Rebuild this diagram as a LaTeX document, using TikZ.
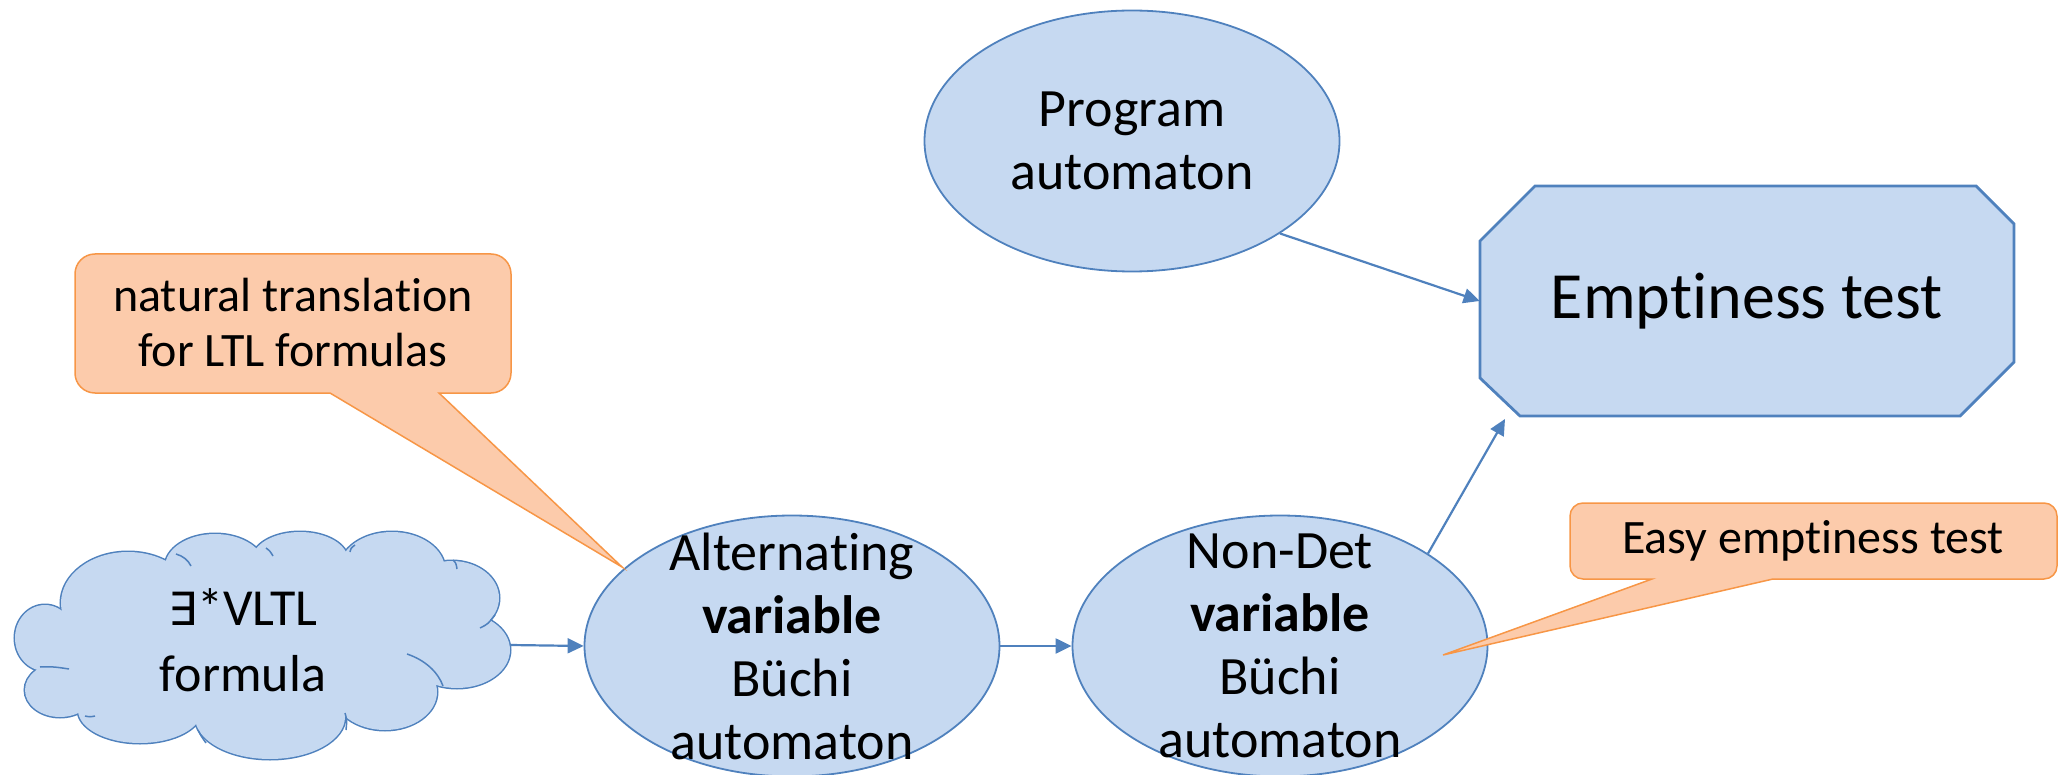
\documentclass[tikz,border=0pt]{standalone}
\usepackage{fontspec}
\setmainfont{Carlito}[Ligatures={NoCommon,NoRare,NoContextual},Contextuals={NoAlternate}]
\newfontfamily\symfont[Scale=0.88]{DejaVu Sans}
\usetikzlibrary{arrows.meta,shapes.geometric}
\definecolor{puffblue}{HTML}{C6D9F1}
\definecolor{edgeblue}{HTML}{4F81BD}
\definecolor{notefill}{HTML}{FCCBAB}
\definecolor{noteedge}{HTML}{F79646}

\begin{document}
\begin{tikzpicture}[x=0.5pt,y=-0.5pt,
  ell/.style={ellipse, draw=edgeblue, fill=puffblue, line width=0.9pt,
    minimum width=207.5pt, minimum height=130.5pt, inner sep=0pt},
  txt/.style={align=center, inner sep=0pt, font=\fontsize{27}{31.5}\selectfont},
  note/.style={draw=noteedge, fill=notefill, line width=0.75pt, line join=miter},
  notetxt/.style={align=center, inner sep=0pt, font=\fontsize{24}{27.5}\selectfont},
  arr/.style={draw=edgeblue, line width=1.1pt, -{Triangle[length=8pt,width=7.5pt]}},
]
\useasboundingbox (0,0) rectangle (2067,775);

% ---- cloud: union of puffs, outer outline only, plus inner arcs ----
\def\puffs{128/603/67/51, 215/567/50/33, 300/560/48/28, 392/570/53/38,
  452/598/47/37, 457/650/53/38, 385/692/52/38, 270/717/75/42,
  140/710/62/33, 60/690/35/27, 45/638/30/33}
\foreach \cx/\cy/\rx/\ry in \puffs
  \draw[edgeblue, line width=1.5pt] (\cx,\cy) ellipse [x radius=\rx, y radius=\ry];
\foreach \cx/\cy/\rx/\ry in \puffs
  \fill[puffblue] (\cx,\cy) ellipse [x radius=\rx, y radius=\ry];
\fill[puffblue] (45,638) -- (128,603) -- (215,567) -- (300,560) -- (392,570)
  -- (452,598) -- (457,650) -- (385,692) -- (270,717) -- (140,710) -- (60,690) -- cycle;
\begin{scope}[edgeblue, line width=0.75pt]
  \draw (176,554) .. controls (183,556) and (188,560) .. (191,566);
  \draw (266,548) .. controls (270,551) .. (273,556);
  \draw (350,552) .. controls (351,548) .. (355,545);
  \draw (453,560) .. controls (456,563) .. (457,569);
  \draw (480,628) .. controls (488,624) .. (495,615);
  \draw (407,654) .. controls (425,660) and (438,672) .. (443,686);
  \draw (345,713) .. controls (347,720) .. (346,730);
  \draw (198,730) .. controls (201,736) .. (206,743);
  \draw (85,716) .. controls (90,717) .. (95,716);
  \draw (40,667) .. controls (52,666) and (62,668) .. (69,669);
\end{scope}
\node[txt, font=\fontsize{26}{33}\selectfont] (formula) at (243,640) {{\symfont ∃}*VLTL\\formula};
\coordinate (cloudE) at (510,645);

% ---- automata ----
\node[ell] (prog) at (1132,141) {};
\node[txt] (progT) at (prog) {Program\\automaton};
\node[ell] (alt) at (792,646) {};
\node[txt] (altT) at (alt) {Alternating\\\textbf{variable}\\Büchi\\automaton};
\node[ell] (nd) at (1280,646) {};
\node[txt] (ndT) at (nd) {Non-Det\\\textbf{variable}\\Büchi\\automaton};

% ---- emptiness test ----
\path[draw=edgeblue, fill=puffblue, line width=1.4pt]
  (1480,241) -- (1535,186) -- (1976,186) -- (2014,224) -- (2014,362)
  -- (1960,416) -- (1520,416) -- (1480,378) -- cycle;
\node[minimum width=267pt, minimum height=115pt, inner sep=0pt,
  font=\fontsize{33}{40}\selectfont] (empt) at (1747,301) {Emptiness test};
\coordinate (ndtip) at (1505,419);

% ---- connectors ----
\draw[arr] (cloudE) -- (alt.west);
\draw[arr] (alt) -- (nd);
\draw[arr] (prog.-32) -- (empt.west);
\draw[arr] (nd.32) -- (ndtip);

% ---- callouts ----
\path[note] (622,567) -- (439,393) [rounded corners=10pt] -- (511,393) -- (511,254)
  -- (75,254) -- (75,393) [sharp corners] -- (330,393) -- cycle;
\node[notetxt] (natT) at (293,323) {natural translation\\for LTL formulas};

\path[note] (1443,655) -- (1773,579) [rounded corners=6.5pt] -- (2057,579) -- (2057,503)
  -- (1570,503) -- (1570,579) [sharp corners] -- (1652,579) -- cycle;
\node[notetxt] (easyT) at (1813,541) {Easy emptiness test};
\end{tikzpicture}
\end{document}
